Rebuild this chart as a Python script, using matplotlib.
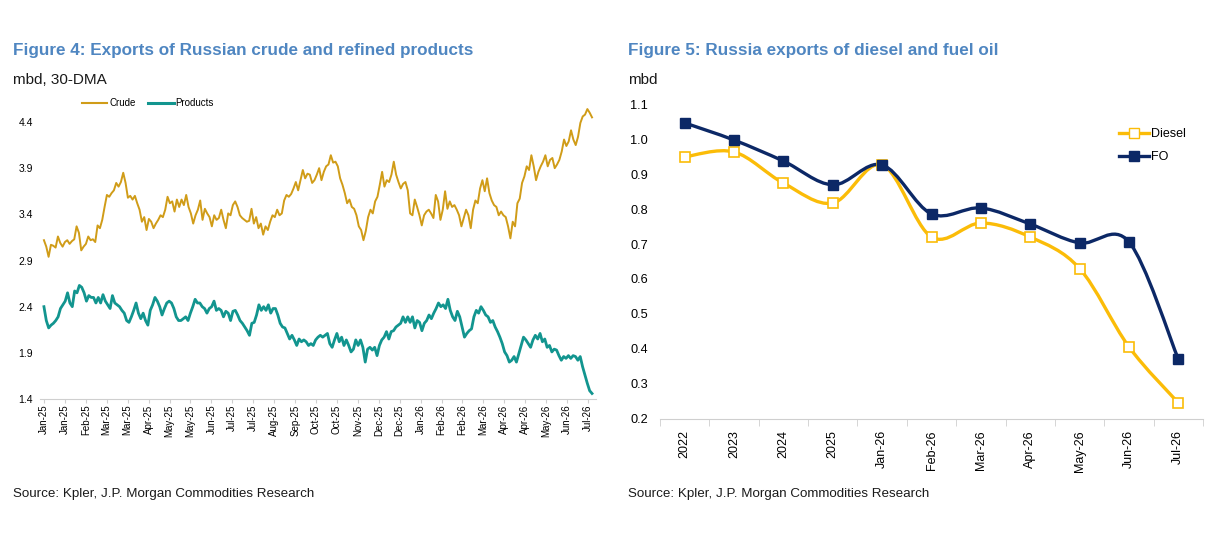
import numpy as np
import pandas as pd
import matplotlib
matplotlib.use("Agg")
import matplotlib.pyplot as plt
import matplotlib.dates as mdates
from matplotlib.path import Path
from matplotlib.patches import PathPatch
from matplotlib.lines import Line2D

# Figure 4: 30-DMA exports, mbd
crude = [
    3.12, 3.05, 2.94, 3.07, 3.06, 3.04, 3.16, 3.09, 3.05, 3.10, 3.12, 3.08, 3.11, 3.13, 3.27,
    3.20, 3.01, 3.05, 3.08, 3.16, 3.12, 3.13, 3.10, 3.28, 3.25, 3.34, 3.48, 3.61, 3.59, 3.63,
    3.66, 3.74, 3.70, 3.75, 3.85, 3.74, 3.58, 3.60, 3.56, 3.60, 3.52, 3.45, 3.32, 3.37, 3.23,
    3.35, 3.32, 3.25, 3.30, 3.34, 3.39, 3.37, 3.45, 3.59, 3.52, 3.54, 3.43, 3.56, 3.48, 3.56,
    3.50, 3.61, 3.48, 3.41, 3.30, 3.39, 3.45, 3.55, 3.34, 3.46, 3.41, 3.37, 3.27, 3.39, 3.34,
    3.36, 3.45, 3.34, 3.25, 3.41, 3.39, 3.50, 3.54, 3.48, 3.39, 3.36, 3.34, 3.32, 3.33, 3.46,
    3.30, 3.37, 3.25, 3.30, 3.18, 3.27, 3.23, 3.32, 3.39, 3.37, 3.45, 3.39, 3.41, 3.55, 3.61,
    3.59, 3.62, 3.68, 3.75, 3.66, 3.77, 3.88, 3.79, 3.84, 3.83, 3.74, 3.77, 3.83, 3.90,
    3.77, 3.86, 3.92, 3.94, 4.04, 3.96, 3.97, 3.92, 3.79, 3.72, 3.63, 3.52, 3.56, 3.48, 3.46,
    3.39, 3.27, 3.23, 3.12, 3.22, 3.37, 3.45, 3.41, 3.54, 3.59, 3.72, 3.86, 3.70, 3.77, 3.75,
    3.83, 3.97, 3.83, 3.75, 3.68, 3.73, 3.75, 3.66, 3.41, 3.39, 3.56, 3.48, 3.39, 3.28, 3.39,
    3.43, 3.45, 3.41, 3.36, 3.61, 3.54, 3.34, 3.45, 3.65, 3.46, 3.54, 3.48, 3.50, 3.45, 3.39,
    3.27,
    3.36, 3.45, 3.39, 3.25, 3.45, 3.55, 3.52, 3.68, 3.77, 3.65, 3.79, 3.63, 3.55, 3.50, 3.48,
    3.39, 3.43, 3.39, 3.37, 3.27, 3.14, 3.32, 3.27, 3.52, 3.57, 3.74, 3.81, 3.92, 3.88, 4.04,
    3.92, 3.77, 3.86, 3.92, 3.97, 4.04, 3.92, 3.99, 4.01, 3.90, 3.94, 3.99, 4.08, 4.21, 4.14,
    4.19, 4.31, 4.21, 4.15, 4.24, 4.39, 4.46, 4.48, 4.54, 4.50, 4.45,
]
products = [
    2.40, 2.25, 2.17, 2.20, 2.22, 2.25, 2.29, 2.38, 2.42, 2.46, 2.55, 2.44, 2.40, 2.57, 2.55,
    2.63, 2.61, 2.55, 2.46, 2.52, 2.50, 2.50, 2.44, 2.50, 2.44, 2.53, 2.46, 2.42, 2.38, 2.52,
    2.44, 2.42, 2.40, 2.36, 2.33, 2.25, 2.23, 2.29, 2.36, 2.44, 2.33, 2.27, 2.33, 2.25, 2.20,
    2.36, 2.42, 2.50, 2.46, 2.40, 2.31, 2.38, 2.44, 2.46, 2.44, 2.38, 2.29, 2.25, 2.25, 2.27,
    2.29, 2.25, 2.33, 2.40, 2.48, 2.44, 2.44, 2.40, 2.38, 2.33, 2.38, 2.40, 2.46, 2.36, 2.38,
    2.36, 2.29, 2.35, 2.33, 2.25, 2.35, 2.36, 2.31, 2.25, 2.22, 2.18, 2.14, 2.09, 2.22, 2.23,
    2.31, 2.42, 2.36, 2.40, 2.36, 2.42, 2.33, 2.38, 2.38, 2.31, 2.22, 2.18, 2.17, 2.11, 2.05,
    2.09, 2.04, 1.98, 2.05, 2.02, 2.04, 2.02, 1.98, 2.00, 1.98, 2.04, 2.07, 2.09, 2.07,
    2.09, 2.11, 2.00, 1.96, 2.04, 2.11, 2.02, 2.07, 1.98, 2.04, 1.98, 1.91, 1.94, 2.04, 1.98,
    2.04, 1.96, 1.80, 1.94, 1.96, 1.93, 1.96, 1.87, 1.98, 2.04, 2.07, 2.13, 2.05, 2.13, 2.14,
    2.18, 2.20, 2.22, 2.29, 2.23, 2.29, 2.23, 2.29, 2.17, 2.25, 2.23, 2.14, 2.22, 2.25, 2.31,
    2.27, 2.33, 2.38, 2.44, 2.40, 2.42, 2.38, 2.48, 2.36, 2.29, 2.25, 2.35, 2.29, 2.18, 2.07,
    2.11, 2.14, 2.16, 2.29, 2.36, 2.33, 2.40, 2.36, 2.31, 2.29, 2.23, 2.25, 2.18, 2.13, 2.07,
    2.00, 1.91, 1.87, 1.80, 1.82, 1.86, 1.80, 1.89, 1.98, 2.07, 2.04, 2.00, 1.96, 2.04, 2.09,
    2.05, 2.11, 2.02, 2.05, 1.96, 1.98, 1.91, 1.94, 1.93, 1.87, 1.82, 1.86, 1.84, 1.87, 1.84,
    1.87, 1.86, 1.82, 1.86, 1.75, 1.66, 1.57, 1.49, 1.46,
]
first_day, last_day = "2025-01-01", "2026-07-05"
tick_dates = pd.date_range("2025-01-01", periods=27, freq="21D")
left_yticks = [1.4, 1.9, 2.4, 2.9, 3.4, 3.9, 4.4]

# Figure 5: diesel and fuel oil exports, mbd
periods = ["2022", "2023", "2024", "2025", "Jan-26", "Feb-26", "Mar-26",
           "Apr-26", "May-26", "Jun-26", "Jul-26"]
diesel = [0.949, 0.963, 0.874, 0.817, 0.926, 0.720, 0.760, 0.720, 0.630, 0.406, 0.246]
fuel_oil = [1.046, 0.997, 0.937, 0.869, 0.926, 0.786, 0.803, 0.757, 0.703, 0.706, 0.371]
right_yticks = [0.2, 0.3, 0.4, 0.5, 0.6, 0.7, 0.8, 0.9, 1.0, 1.1]

TITLE = "#4f86c1"
CRUDE = "#d09c18"
PROD = "#12958f"
DIESEL = "#fbbc08"
FO = "#0c2866"
GRID = "#cfcfcf"

plt.rcParams['font.family'] = ['Liberation Sans', 'DejaVu Sans']


def smooth_path(xs, ys):
    # Excel-style smoothed line: Catmull-Rom segments as cubic Beziers
    pts = np.column_stack([xs, ys]).astype(float)
    verts = [pts[0]]
    codes = [Path.MOVETO]
    n = len(pts)
    for i in range(n - 1):
        p0 = pts[i - 1] if i > 0 else pts[i]
        p1, p2 = pts[i], pts[i + 1]
        p3 = pts[i + 2] if i + 2 < n else pts[i + 1]
        verts += [p1 + (p2 - p0) / 6, p2 - (p3 - p1) / 6, p2]
        codes += [Path.CURVE4] * 3
    return Path(verts, codes)


fig = plt.figure(figsize=(12.07, 5.44), dpi=100)

# ---------- left chart ----------
ax1 = fig.add_axes([0.0331, 0.2665, 0.4607, 0.5432])
crude_x = pd.date_range(first_day, last_day, periods=len(crude))
prod_x = pd.date_range(first_day, last_day, periods=len(products))
ax1.plot(crude_x, crude, color=CRUDE, lw=1.4)
ax1.plot(prod_x, products, color=PROD, lw=2.0)
ax1.set_ylim(1.4, 4.6)
ax1.set_xlim(pd.Timestamp("2024-12-28"), pd.Timestamp("2026-07-09"))
ax1.set_yticks(left_yticks)
ax1.set_yticklabels([f"{v:.1f}" for v in left_yticks])
ax1.set_xticks(tick_dates)
ax1.xaxis.set_major_formatter(mdates.DateFormatter("%b-%y"))
ax1.tick_params(axis='x', labelsize=7, rotation=90, length=3, color=GRID, pad=1)
ax1.tick_params(axis='y', labelsize=7.5, length=0, pad=5)
for s in ['top', 'right', 'left']:
    ax1.spines[s].set_visible(False)
ax1.spines['bottom'].set_color(GRID)

handles1 = [Line2D([], [], color=CRUDE, lw=1.5), Line2D([], [], color=PROD, lw=2.2)]
fig.legend(handles1, ["Crude", "Products"], loc='center', bbox_to_anchor=(148 / 1207, 1 - 103 / 544),
           ncol=2, frameon=False, fontsize=7, handlelength=2.6, handletextpad=0.2, columnspacing=1.3)

# ---------- right chart ----------
ax2 = fig.add_axes([0.5468, 0.2298, 0.4499, 0.5790])
xs = np.arange(len(periods))
ax2.add_patch(PathPatch(smooth_path(xs, diesel), fill=False, edgecolor=DIESEL, lw=2.4, capstyle='round'))
ax2.add_patch(PathPatch(smooth_path(xs, fuel_oil), fill=False, edgecolor=FO, lw=2.4, capstyle='round'))
ax2.plot(xs, diesel, ls='none', marker='s', ms=6.5, mfc='white', mec=DIESEL, mew=1.2)
ax2.plot(xs, fuel_oil, ls='none', marker='s', ms=6.5, mfc=FO, mec=FO)
ax2.set_xlim(-0.5, len(periods) - 0.5)
ax2.set_ylim(0.2, 1.1)
ax2.set_yticks(right_yticks)
ax2.set_yticklabels([f"{v:.1f}" for v in right_yticks])
ax2.set_xticks(xs)
ax2.set_xticklabels(periods, rotation=90)
ax2.set_xticks(np.arange(len(periods) + 1) - 0.5, minor=True)
ax2.tick_params(axis='x', which='major', length=0, labelsize=9, pad=8)
ax2.tick_params(axis='x', which='minor', length=5, color=GRID)
ax2.tick_params(axis='y', labelsize=9.2, length=0, pad=8.5)
for s in ['top', 'right', 'left']:
    ax2.spines[s].set_visible(False)
ax2.spines['bottom'].set_color(GRID)

handles2 = [Line2D([], [], color=DIESEL, lw=2.4, marker='s', ms=6.5, mfc='white', mec=DIESEL),
            Line2D([], [], color=FO, lw=2.4, marker='s', ms=6.5, mfc=FO, mec=FO)]
fig.legend(handles2, ["Diesel", "FO"], loc='upper left', bbox_to_anchor=(1108 / 1207, 1 - 117 / 544),
           frameon=False, fontsize=9, handlelength=2.4, handletextpad=0.15, labelspacing=0.9)

# ---------- texts ----------
fig.text(13 / 1207, 1 - 55 / 544, "Figure 4: Exports of Russian crude and refined products",
         fontsize=12.3, weight='bold', color=TITLE, va='baseline')
fig.text(628 / 1207, 1 - 55 / 544, "Figure 5: Russia exports of diesel and fuel oil",
         fontsize=12.3, weight='bold', color=TITLE, va='baseline')
fig.text(13 / 1207, 1 - 84 / 544, "mbd, 30-DMA", fontsize=11, va='baseline', color='#1a1a1a')
fig.text(628 / 1207, 1 - 84 / 544, "mbd", fontsize=11, va='baseline', color='#1a1a1a')
fig.text(13 / 1207, 1 - 497 / 544, "Source: Kpler, J.P. Morgan Commodities Research",
         fontsize=9.6, va='baseline', color='#1a1a1a')
fig.text(628 / 1207, 1 - 497 / 544, "Source: Kpler, J.P. Morgan Commodities Research",
         fontsize=9.6, va='baseline', color='#1a1a1a')

fig.savefig("out.png", dpi=100)
